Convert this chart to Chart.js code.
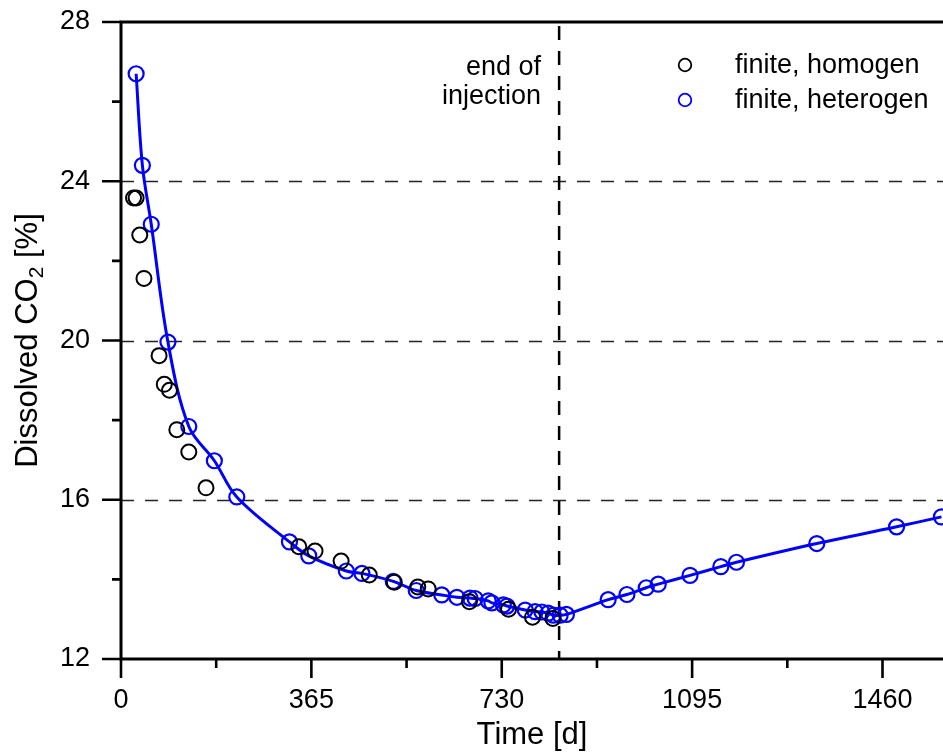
<!DOCTYPE html>
<html>
<head>
<meta charset="utf-8">
<script src="https://cdn.jsdelivr.net/npm/chart.js@4/dist/chart.umd.min.js"></script>
<style>
html,body{margin:0;padding:0;background:#fff;overflow:hidden;}
#wrap{width:943px;height:753px;position:relative;}
</style>
</head>
<body>
<div id="wrap"><canvas id="c"></canvas></div>
<script>
// ---- data ----
const homogenDays   = [24, 29, 36, 44, 73, 83, 93, 107, 130, 163, 341, 372, 422, 476, 524, 569, 589, 668, 743, 789, 828];
const homogenValues = [23.58, 23.58, 22.65, 21.56, 19.62, 18.90, 18.75, 17.76, 17.20, 16.30, 14.82, 14.71, 14.46, 14.11, 13.93, 13.81, 13.76, 13.44, 13.25, 13.05, 13.02];

const heterogenDays   = [29, 41, 58, 90, 130, 179, 222, 323, 360, 432, 462, 522, 566, 615, 644, 669, 679, 704, 711, 733, 740, 775, 794, 807, 819, 829, 842, 854, 934, 970, 1007, 1030, 1091, 1150, 1180, 1334, 1487, 1573];
const heterogenValues = [26.70, 24.40, 22.92, 19.96, 17.84, 16.98, 16.07, 14.94, 14.59, 14.21, 14.15, 13.95, 13.72, 13.61, 13.55, 13.53, 13.52, 13.46, 13.41, 13.36, 13.33, 13.23, 13.19, 13.18, 13.15, 13.10, 13.10, 13.12, 13.49, 13.62, 13.79, 13.88, 14.10, 14.32, 14.43, 14.90, 15.32, 15.57];

const xMajorTicks = [0, 365, 730, 1095, 1460];
const xMinorTicks = [182.5, 547.5, 912.5, 1277.5];
const yMajorTicks = [12, 16, 20, 24, 28];
const yMinorTicks = [14, 18, 22, 26];
const yGridValues = [16, 20, 24];
const endOfInjectionDay = 840;
const seriesNames = ['finite, homogen', 'finite, heterogen'];
const annotationLines = ['end of', 'injection'];
const xTitle = 'Time [d]';
const yTitleParts = ['Dissolved CO', '2', ' [%]'];
const xMin = 0, xMax = 1576, yMin = 12, yMax = 28;

const FONT = '"Liberation Sans", Arial, Helvetica, sans-serif';

const toPts = (xs, ys) => xs.map((x, i) => ({x: x, y: ys[i]}));

const decor = {
  id: 'decor',
  beforeDatasetsDraw(chart) {
    const ctx = chart.ctx, xs = chart.scales.x, ys = chart.scales.y, a = chart.chartArea;
    ctx.save();
    ctx.strokeStyle = '#222';
    ctx.lineWidth = 1.6;
    ctx.setLineDash([13, 11]);
    yGridValues.forEach(v => {
      const py = Math.round(ys.getPixelForValue(v)) + 0.5;
      ctx.beginPath(); ctx.moveTo(a.left, py); ctx.lineTo(a.right, py); ctx.stroke();
    });
    ctx.strokeStyle = '#000';
    ctx.lineWidth = 2.5;
    ctx.setLineDash([14, 11]);
    const px = xs.getPixelForValue(endOfInjectionDay);
    ctx.beginPath(); ctx.moveTo(px, a.top + 4); ctx.lineTo(px, a.bottom); ctx.stroke();
    ctx.restore();
  },
  afterDatasetsDraw(chart) {
    const ctx = chart.ctx, xs = chart.scales.x, ys = chart.scales.y, a = chart.chartArea;
    ctx.save();
    ctx.strokeStyle = '#000';
    ctx.lineWidth = 3;
    ctx.setLineDash([]);
    ctx.beginPath();
    ctx.moveTo(a.left, a.top); ctx.lineTo(a.right, a.top);
    ctx.moveTo(a.left, a.top - 1.5); ctx.lineTo(a.left, a.bottom + 1.5);
    ctx.moveTo(a.left, a.bottom); ctx.lineTo(a.right, a.bottom);
    ctx.stroke();
    ctx.lineWidth = 2.6;
    ctx.beginPath();
    xMajorTicks.forEach(v => { const p = xs.getPixelForValue(v); ctx.moveTo(p, a.bottom); ctx.lineTo(p, a.bottom + 19); });
    xMinorTicks.forEach(v => { const p = xs.getPixelForValue(v); ctx.moveTo(p, a.bottom); ctx.lineTo(p, a.bottom + 9); });
    yMajorTicks.forEach(v => { const p = ys.getPixelForValue(v); ctx.moveTo(a.left, p); ctx.lineTo(a.left - 19, p); });
    yMinorTicks.forEach(v => { const p = ys.getPixelForValue(v); ctx.moveTo(a.left, p); ctx.lineTo(a.left - 9, p); });
    ctx.stroke();

    ctx.fillStyle = '#000';
    ctx.font = '27px ' + FONT;
    ctx.textAlign = 'right';
    ctx.textBaseline = 'alphabetic';
    const ax = xs.getPixelForValue(endOfInjectionDay) - 18;
    ctx.fillText(annotationLines[0], ax, 75);
    ctx.fillText(annotationLines[1], ax, 104);

    const legendColors = ['#000', '#0000ff'];
    const legendY = [65, 100];
    ctx.textAlign = 'left';
    ctx.textBaseline = 'middle';
    seriesNames.forEach((n, i) => {
      ctx.beginPath();
      ctx.strokeStyle = legendColors[i];
      ctx.lineWidth = 1.8;
      ctx.arc(685, legendY[i], 6.3, 0, Math.PI * 2);
      ctx.stroke();
      ctx.fillStyle = '#000';
      ctx.fillText(n, 735, legendY[i] + 1);
    });

    ctx.font = '31px ' + FONT;
    ctx.textAlign = 'center';
    ctx.textBaseline = 'alphabetic';
    ctx.fillText(xTitle, (a.left + a.right) / 2, 744);

    ctx.save();
    ctx.translate(37, (a.top + a.bottom) / 2);
    ctx.rotate(-Math.PI / 2);
    const big = '31px ' + FONT, small = '21px ' + FONT;
    ctx.font = big; const w0 = ctx.measureText(yTitleParts[0]).width;
    ctx.font = small; const w1 = ctx.measureText(yTitleParts[1]).width;
    ctx.font = big; const w2 = ctx.measureText(yTitleParts[2]).width;
    let sx = -(w0 + w1 + w2) / 2;
    ctx.textAlign = 'left';
    ctx.font = big; ctx.fillText(yTitleParts[0], sx, 0); sx += w0;
    ctx.font = small; ctx.fillText(yTitleParts[1], sx, 6); sx += w1;
    ctx.font = big; ctx.fillText(yTitleParts[2], sx, 0);
    ctx.restore();

    ctx.restore();
  }
};

const zeroPad = s => { s.paddingLeft = 0; s.paddingRight = 0; s.paddingTop = 0; s.paddingBottom = 0; };

new Chart(document.getElementById('c'), {
  type: 'scatter',
  data: {
    datasets: [
      {
        label: seriesNames[0],
        data: toPts(homogenDays, homogenValues),
        showLine: false,
        pointStyle: 'circle',
        pointRadius: 7.5,
        pointBorderWidth: 2,
        pointBorderColor: '#000',
        pointBackgroundColor: 'rgba(0,0,0,0)'
      },
      {
        label: seriesNames[1],
        data: toPts(heterogenDays, heterogenValues),
        showLine: true,
        borderColor: '#0000ff',
        borderWidth: 3,
        tension: 0.35,
        pointStyle: 'circle',
        pointRadius: 7.5,
        pointBorderWidth: 2.2,
        pointBorderColor: '#0000ff',
        pointBackgroundColor: 'rgba(0,0,0,0)'
      }
    ]
  },
  options: {
    responsive: true,
    maintainAspectRatio: false,
    animation: false,
    events: [],
    layout: { autoPadding: false, padding: { top: 22, right: 0, left: 0, bottom: 0 } },
    plugins: { legend: { display: false }, tooltip: { enabled: false } },
    scales: {
      x: {
        type: 'linear', min: xMin, max: xMax,
        grid: { display: false, drawTicks: false },
        border: { display: false },
        afterBuildTicks: s => { s.ticks = xMajorTicks.map(v => ({ value: v })); },
        afterFit: s => { s.height = 94; zeroPad(s); },
        ticks: { color: '#000', font: { family: FONT, size: 27 }, padding: 25, maxRotation: 0, autoSkip: false,
                 callback: v => String(v) }
      },
      y: {
        type: 'linear', min: yMin, max: yMax,
        grid: { display: false, drawTicks: false },
        border: { display: false },
        afterBuildTicks: s => { s.ticks = yMajorTicks.map(v => ({ value: v })); },
        afterFit: s => { s.width = 121; zeroPad(s); },
        ticks: { color: '#000', font: { family: FONT, size: 27 }, padding: 31, callback: v => String(v) }
      }
    }
  },
  plugins: [decor]
});
</script>
</body>
</html>
